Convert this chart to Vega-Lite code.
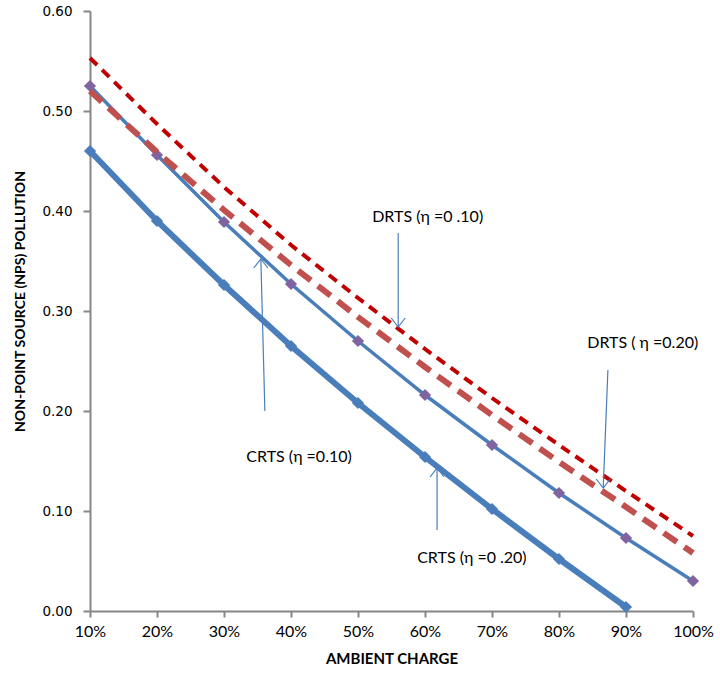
{
  "$schema": "https://vega.github.io/schema/vega-lite/v6.json",
  "width": 603,
  "height": 600,
  "autosize": {"type": "none"},
  "padding": {"left": 90, "top": 11, "right": 27, "bottom": 65},
  "background": "white",
  "config": {
    "view": {"stroke": null},
    "axis": {
      "grid": false,
      "domainColor": "#868686",
      "domainWidth": 2,
      "tickColor": "#868686",
      "tickWidth": 2,
      "tickSize": 6,
      "labelColor": "#000000",
      "titleColor": "#000000"
    }
  },
  "datasets": {
    "series": [
      {"charge": 10, "value": 0.525, "series": "CRTS 0.10"},
      {"charge": 20, "value": 0.456, "series": "CRTS 0.10"},
      {"charge": 30, "value": 0.389, "series": "CRTS 0.10"},
      {"charge": 40, "value": 0.327, "series": "CRTS 0.10"},
      {"charge": 50, "value": 0.270, "series": "CRTS 0.10"},
      {"charge": 60, "value": 0.216, "series": "CRTS 0.10"},
      {"charge": 70, "value": 0.166, "series": "CRTS 0.10"},
      {"charge": 80, "value": 0.118, "series": "CRTS 0.10"},
      {"charge": 90, "value": 0.073, "series": "CRTS 0.10"},
      {"charge": 100, "value": 0.030, "series": "CRTS 0.10"},
      {"charge": 10, "value": 0.460, "series": "CRTS 0.20"},
      {"charge": 20, "value": 0.390, "series": "CRTS 0.20"},
      {"charge": 30, "value": 0.326, "series": "CRTS 0.20"},
      {"charge": 40, "value": 0.265, "series": "CRTS 0.20"},
      {"charge": 50, "value": 0.208, "series": "CRTS 0.20"},
      {"charge": 60, "value": 0.154, "series": "CRTS 0.20"},
      {"charge": 70, "value": 0.102, "series": "CRTS 0.20"},
      {"charge": 80, "value": 0.052, "series": "CRTS 0.20"},
      {"charge": 90, "value": 0.004, "series": "CRTS 0.20"},
      {"charge": 10, "value": 0.553, "series": "DRTS 0.10"},
      {"charge": 20, "value": 0.487, "series": "DRTS 0.10"},
      {"charge": 30, "value": 0.424, "series": "DRTS 0.10"},
      {"charge": 40, "value": 0.366, "series": "DRTS 0.10"},
      {"charge": 50, "value": 0.313, "series": "DRTS 0.10"},
      {"charge": 60, "value": 0.262, "series": "DRTS 0.10"},
      {"charge": 70, "value": 0.213, "series": "DRTS 0.10"},
      {"charge": 80, "value": 0.166, "series": "DRTS 0.10"},
      {"charge": 90, "value": 0.120, "series": "DRTS 0.10"},
      {"charge": 100, "value": 0.075, "series": "DRTS 0.10"},
      {"charge": 10, "value": 0.520, "series": "DRTS 0.20"},
      {"charge": 20, "value": 0.459, "series": "DRTS 0.20"},
      {"charge": 30, "value": 0.401, "series": "DRTS 0.20"},
      {"charge": 40, "value": 0.346, "series": "DRTS 0.20"},
      {"charge": 50, "value": 0.294, "series": "DRTS 0.20"},
      {"charge": 60, "value": 0.244, "series": "DRTS 0.20"},
      {"charge": 70, "value": 0.196, "series": "DRTS 0.20"},
      {"charge": 80, "value": 0.149, "series": "DRTS 0.20"},
      {"charge": 90, "value": 0.104, "series": "DRTS 0.20"},
      {"charge": 100, "value": 0.058, "series": "DRTS 0.20"}
    ],
    "arrows": [
      {"charge": 56.0, "value": 0.284, "charge2": 56.0, "value2": 0.378, "dir": "down"},
      {"charge": 86.6, "value": 0.123, "charge2": 87.3, "value2": 0.241, "dir": "down"},
      {"charge": 35.5, "value": 0.352, "charge2": 36.1, "value2": 0.200, "dir": "up"},
      {"charge": 61.8, "value": 0.143, "charge2": 61.8, "value2": 0.081, "dir": "up"}
    ],
    "notes": [
      {"charge": 60.4, "value": 0.394, "label": "DRTS (η =0 .10)"},
      {"charge": 92.5, "value": 0.268, "label": "DRTS ( η =0.20)"},
      {"charge": 41.2, "value": 0.154, "label": "CRTS (η =0.10)"},
      {"charge": 67.0, "value": 0.053, "label": "CRTS (η =0 .20)"}
    ]
  },
  "encoding": {
    "x": {
      "field": "charge",
      "type": "quantitative",
      "scale": {"domain": [10, 100], "nice": false, "zero": false},
      "axis": {
        "values": [10, 20, 30, 40, 50, 60, 70, 80, 90, 100],
        "labelExpr": "datum.value + '%'",
        "labelFont": "Lato",
        "labelFontSize": 16,
        "labelPadding": 6,
        "labelFlush": false,
        "labelOverlap": false,
        "title": "AMBIENT CHARGE",
        "titleFont": "Lato",
        "titleFontSize": 15,
        "titleFontWeight": "bold",
        "titlePadding": 12
      }
    },
    "y": {
      "field": "value",
      "type": "quantitative",
      "scale": {"domain": [0, 0.6], "nice": false},
      "axis": {
        "values": [0, 0.1, 0.2, 0.3, 0.4, 0.5, 0.6],
        "format": ".2f",
        "labelFont": "DejaVu Sans",
        "labelFontSize": 13.5,
        "labelPadding": 11,
        "tickSize": 7,
        "title": "NON-POINT SOURCE (NPS) POLLUTION",
        "titleFont": "Lato",
        "titleFontSize": 14,
        "titleFontWeight": "bold",
        "titlePadding": 14,
        "titleY": 290
      }
    }
  },
  "layer": [
    {
      "data": {"name": "series"},
      "transform": [{"filter": "datum.series === 'CRTS 0.10'"}],
      "mark": {"type": "line", "color": "#4A7EBB", "strokeWidth": 3.5}
    },
    {
      "data": {"name": "series"},
      "transform": [{"filter": "datum.series === 'CRTS 0.10'"}],
      "mark": {"type": "point", "shape": "diamond", "filled": true, "color": "#8064A2", "size": 150, "opacity": 1}
    },
    {
      "data": {"name": "series"},
      "transform": [{"filter": "datum.series === 'CRTS 0.20'"}],
      "mark": {"type": "line", "color": "#4A7EBB", "strokeWidth": 6}
    },
    {
      "data": {"name": "series"},
      "transform": [{"filter": "datum.series === 'CRTS 0.20'"}],
      "mark": {"type": "point", "shape": "diamond", "filled": true, "color": "#4A7EBB", "size": 150, "opacity": 1}
    },
    {
      "data": {"name": "series"},
      "transform": [{"filter": "datum.series === 'DRTS 0.20'"}],
      "mark": {"type": "line", "color": "#C0504D", "strokeWidth": 6, "strokeDash": [16, 9]}
    },
    {
      "data": {"name": "series"},
      "transform": [{"filter": "datum.series === 'DRTS 0.10'"}],
      "mark": {"type": "line", "color": "#C00000", "strokeWidth": 4, "strokeDash": [10, 7]}
    },
    {
      "data": {"name": "arrows"},
      "mark": {"type": "rule", "color": "#4A7EBB", "strokeWidth": 1.2},
      "encoding": {
        "x2": {"field": "charge2"},
        "y2": {"field": "value2"}
      }
    },
    {
      "data": {"name": "arrows"},
      "mark": {
        "type": "point",
        "shape": "M -1.4 -1.8 L 0 0 L 1.4 -1.8",
        "filled": false,
        "color": "#4A7EBB",
        "strokeWidth": 1.2,
        "size": 100,
        "opacity": 1
      },
      "encoding": {
        "angle": {
          "field": "dir",
          "type": "nominal",
          "scale": {"domain": ["down", "up"], "range": [0, 180]},
          "legend": null
        }
      }
    },
    {
      "data": {"name": "notes"},
      "mark": {"type": "text", "font": "Lato", "fontSize": 16, "color": "#000000", "align": "center", "baseline": "middle"},
      "encoding": {"text": {"field": "label"}}
    }
  ]
}
